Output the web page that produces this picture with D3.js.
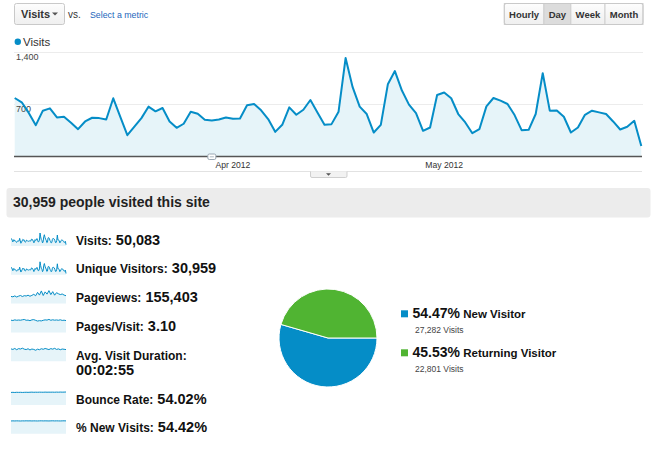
<!DOCTYPE html>
<html>
<head>
<meta charset="utf-8">
<script src="https://cdn.jsdelivr.net/npm/d3@7"></script>
<style>
  body { margin: 0; background: #fff; }
  svg { display: block; font-family: "Liberation Sans", Arial, sans-serif; }
</style>
</head>
<body>
<svg class="svg" width="652" height="463"></svg>
<script>
// ---- data ----
const startDate = new Date(2012, 2, 1);
const visits = [781, 723, 580, 415, 610, 641, 519, 528, 447, 361,
  465, 515, 510, 492, 777, 528, 280, 395, 510, 664,
  601, 646, 465, 379, 434, 596, 569, 488, 479, 492,
  519, 501, 506, 682, 700, 615, 497, 325, 420, 655,
  555, 623, 754, 587, 420, 429, 596, 1319, 926, 664,
  565, 316, 420, 965, 1143, 881, 691, 578, 339, 384,
  822, 854, 777, 565, 452, 307, 361, 668, 781, 745,
  700, 551, 348, 352, 565, 1115, 610, 614, 528, 316,
  384, 555, 610, 587, 565, 465, 357, 393, 474, 135];
const yTicks = [700, 1400];
const monthTicks = [new Date(2012, 3, 1), new Date(2012, 4, 1)];
const annotationDate = new Date(2012, 2, 29);
const periodButtons = ["Hourly", "Day", "Week", "Month"];
const selectedPeriod = "Day";
const headline = "30,959 people visited this site";

const metricNames = ["Visits:", "Unique Visitors:", "Pageviews:", "Pages/Visit:", "Avg. Visit Duration:", "Bounce Rate:", "% New Visits:"];
const metricValues = ["50,083", "30,959", "155,403", "3.10", "00:02:55", "54.02%", "54.42%"];

// sparkline series
const uniqueSpark = visits; // same shape as visits at this size
const pageviewsSpark = [1500, 1420, 1610, 1380, 1560, 1700, 1480, 1660, 1590, 1760, 1540, 1720, 1940, 1640, 2350,
  1780, 2650, 1690, 2450, 1980, 2720, 1880, 2500, 1760, 2280, 2060, 1890, 2010, 1780, 1650];
const pagesSpark = [3.10, 3.02, 3.18, 3.08, 3.14, 3.09, 3.20, 3.28, 3.08, 3.12, 2.98, 3.18, 3.24, 3.06, 2.88,
  2.98, 2.92, 3.08, 3.18, 3.12, 3.30, 3.08, 3.20, 3.10, 3.16, 3.08, 3.20, 3.04, 3.10, 3.00];
const durationSpark = [180, 172, 186, 168, 184, 178, 190, 176, 170, 182, 164, 178, 172, 160, 176,
  168, 182, 174, 186, 178, 170, 184, 176, 188, 172, 180, 168, 178, 174, 170];
const bounceSpark = [53.4, 53.8, 53.2, 54.0, 53.6, 53.9, 53.3, 53.8, 54.1, 53.7, 54.2, 54.6, 54.0, 54.4, 54.1,
  54.5, 54.3, 54.2, 54.7, 54.3, 54.5, 54.4, 54.6, 54.2, 54.8, 54.4, 54.9, 54.5, 54.8, 55.2];
const newVisitsSpark = [54.2, 54.6, 54.3, 54.7, 54.5, 54.1, 54.6, 54.4, 54.8, 54.5, 54.7, 54.3, 54.6, 54.5, 54.2,
  54.6, 54.8, 54.4, 54.7, 54.5, 54.3, 54.6, 54.9, 54.4, 54.7, 54.5, 54.3, 54.6, 54.8, 54.5];

const visitorTypes = ["New Visitor", "Returning Visitor"];
const visitorShares = [54.47, 45.53];
const visitorVisits = ["27,282", "22,801"];

// ---- style ----
const blue = "#058dc7";
const green = "#50b432";
const areaFill = "#e6f4f9";

const svg = d3.select(".svg");
svg.append("rect").attr("width", 652).attr("height", 463).attr("fill", "#fff");

const defs = svg.append("defs");
const grad = defs.append("linearGradient").attr("id", "btn").attr("x1", 0).attr("x2", 0).attr("y1", 0).attr("y2", 1);
grad.append("stop").attr("offset", "0%").attr("stop-color", "#fdfdfd");
grad.append("stop").attr("offset", "100%").attr("stop-color", "#efefef");

// ---- top controls ----
const controls = svg.append("g");
controls.append("rect").attr("x", 14.5).attr("y", 3.5).attr("width", 50).attr("height", 21).attr("rx", 2)
  .attr("fill", "url(#btn)").attr("stroke", "#c9c9c9");
controls.append("text").attr("x", 21).attr("y", 17.5).attr("font-size", 11).attr("font-weight", "bold")
  .attr("fill", "#333").text("Visits");
controls.append("path").attr("d", "M52,12.5 L58,12.5 L55,15.5 Z").attr("fill", "#555");
controls.append("text").attr("x", 68).attr("y", 17.5).attr("font-size", 10).attr("fill", "#333").text("vs.");
controls.append("text").attr("x", 90).attr("y", 17.5).attr("font-size", 8.8).attr("fill", "#2266bb").text("Select a metric");

// period buttons, right aligned
const btnG = controls.append("g");
const btnTexts = btnG.selectAll("text").data(periodButtons).join("text")
  .attr("font-size", 9.5).attr("font-weight", "bold").attr("fill", "#333")
  .attr("text-anchor", "middle").attr("y", 17.5).text(d => d);
const widths = btnTexts.nodes().map(n => n.getComputedTextLength() + 9.5);
let bx = 643 - d3.sum(widths);
const btnX = widths.map(w => { const s = bx; bx += w; return s; });
btnG.selectAll("rect.btn").data(periodButtons).join("rect").classed("btn", true)
  .attr("x", (d, i) => btnX[i]).attr("y", 3.5).attr("width", (d, i) => widths[i]).attr("height", 21)
  .attr("fill", d => d === selectedPeriod ? "#dcdcdc" : "url(#btn)")
  .attr("stroke", "#cfcfcf");
btnG.append("rect").attr("x", btnX[0]).attr("y", 3.5).attr("width", d3.sum(widths)).attr("height", 21)
  .attr("rx", 2).attr("fill", "none").attr("stroke", "#c9c9c9");
btnTexts.raise().attr("x", (d, i) => btnX[i] + widths[i] / 2);

// legend
controls.append("circle").attr("cx", 17.8).attr("cy", 41.8).attr("r", 3.2).attr("fill", blue);
controls.append("text").attr("x", 23).attr("y", 45.5).attr("font-size", 11.5).attr("fill", "#333").text("Visits");

// ---- main chart ----
const dates = visits.map((v, i) => d3.timeDay.offset(startDate, i));
const x = d3.scaleTime().domain([dates[0], dates[dates.length - 1]]).range([14.7, 641.3]);
const y = d3.scaleLinear().domain([0, 1400]).range([156, 52]);

const chart = svg.append("g");
chart.selectAll(".grid").data(yTicks).join("line").classed("grid", true)
  .attr("x1", 14).attr("x2", 643).attr("y1", d => y(d) + 0.5).attr("y2", d => y(d) + 0.5)
  .attr("stroke", "#ececec");

chart.append("path").datum(visits)
  .attr("d", d3.area().x((d, i) => x(dates[i])).y0(y(0)).y1(d => y(d)))
  .attr("fill", areaFill);

chart.selectAll(".ylab").data(yTicks).join("text").classed("ylab", true)
  .attr("x", 16).attr("y", d => y(d) + 8).attr("font-size", 9).attr("fill", "#444")
  .text(d => d3.format(",")(d));

chart.append("path").datum(visits)
  .attr("d", d3.line().x((d, i) => x(dates[i])).y(d => y(d)))
  .attr("fill", "none").attr("stroke", blue).attr("stroke-width", 2).attr("stroke-linejoin", "round");

chart.append("line").attr("x1", 14).attr("x2", 642).attr("y1", y(0) + 0.5).attr("y2", y(0) + 0.5)
  .attr("stroke", "#555").attr("stroke-width", 1.4);

chart.selectAll(".xlab").data(monthTicks).join("text").classed("xlab", true)
  .attr("x", d => x(d)).attr("y", 168).attr("text-anchor", "middle")
  .attr("font-size", 8.6).attr("fill", "#333").text(d3.timeFormat("%b %Y"));

// annotation marker
const ax = x(annotationDate);
chart.append("rect").attr("x", ax - 4).attr("y", 154).attr("width", 8).attr("height", 5.5).attr("rx", 1.5)
  .attr("fill", "#fff").attr("stroke", "#9aa8b4");
chart.append("line").attr("x1", ax - 2).attr("x2", ax + 2).attr("y1", 156.8).attr("y2", 156.8)
  .attr("stroke", "#9aa8b4").attr("stroke-width", 0.8);

// collapse tab below chart
chart.append("line").attr("x1", 14).attr("x2", 642).attr("y1", 171.5).attr("y2", 171.5).attr("stroke", "#e2e2e2");
chart.append("path").attr("d", "M310.5,171.5 L310.5,176 Q310.5,177.5 312,177.5 L345.5,177.5 Q347,177.5 347,176 L347,171.5")
  .attr("fill", "#f2f2f2").attr("stroke", "#cfcfcf");
chart.append("path").attr("d", "M326,173.2 L331,173.2 L328.5,175.7 Z").attr("fill", "#555");

// ---- headline ----
svg.append("rect").attr("x", 6.5).attr("y", 188).attr("width", 644).attr("height", 29.5).attr("rx", 3)
  .attr("fill", "#ececec");
svg.append("text").attr("x", 13).attr("y", 207).attr("font-size", 14).attr("font-weight", "bold")
  .attr("fill", "#222").text(headline);

// ---- metric rows with sparklines ----
const sparks = [visits, uniqueSpark, pageviewsSpark, pagesSpark, durationSpark, bounceSpark, newVisitsSpark];
const rowBase = i => 244.5 + 28.8 * i + (i > 4 ? 15 : 0);
const rows = svg.append("g");
metricNames.forEach((name, i) => {
  const data = sparks[i];
  const sx = d3.scaleLinear().domain([0, data.length - 1]).range([11, 66]);
  const bottom = rowBase(i) + 1.5;
  const sy = d3.scaleLinear().domain([0, d3.max(data)]).range([bottom, bottom - 13]);
  const g = rows.append("g");
  g.append("path").datum(data)
    .attr("d", d3.area().x((d, j) => sx(j)).y0(bottom).y1(d => sy(d)))
    .attr("fill", areaFill);
  g.append("path").datum(data)
    .attr("d", d3.line().x((d, j) => sx(j)).y(d => sy(d)))
    .attr("fill", "none").attr("stroke", blue).attr("stroke-width", 1);

  const twoLine = name.length > 16;
  const t = g.append("text").attr("x", 76).attr("y", rowBase(i)).attr("fill", "#111").attr("font-weight", "bold");
  t.append("tspan").attr("font-size", 12).text(name);
  if (twoLine) {
    t.append("tspan").attr("x", 76).attr("dy", 15.5).attr("font-size", 14.5).text(metricValues[i]);
  } else {
    t.append("tspan").attr("font-size", 14.5).text(" " + metricValues[i]);
  }
});

// ---- pie ----
const pie = d3.pie().sort(null).startAngle(Math.PI / 2).endAngle(Math.PI / 2 + 2 * Math.PI);
const arc = d3.arc().innerRadius(0).outerRadius(49);
const colors = d3.scaleOrdinal().domain(visitorTypes).range([blue, green]);
svg.append("g").attr("transform", "translate(328,338)")
  .selectAll("path").data(pie(visitorShares)).join("path")
  .attr("d", arc).attr("fill", (d, i) => colors(visitorTypes[i]))
  .attr("stroke", "#fff").attr("stroke-width", 1);

const legend = svg.append("g").selectAll("g").data(visitorTypes).join("g")
  .attr("transform", (d, i) => `translate(401,${318.3 + 39 * i})`);
legend.append("rect").attr("x", 0).attr("y", -8).attr("width", 7).attr("height", 7).attr("fill", d => colors(d));
const lt = legend.append("text").attr("x", 11.5).attr("y", 0).attr("fill", "#111").attr("font-weight", "bold");
lt.append("tspan").attr("font-size", 14).text((d, i) => visitorShares[i].toFixed(2) + "%");
lt.append("tspan").attr("font-size", 11.5).text(d => " " + d);
legend.append("text").attr("x", 14).attr("y", 14.4).attr("font-size", 8.5).attr("fill", "#444")
  .text((d, i) => visitorVisits[i] + " Visits");
</script>
</body>
</html>
